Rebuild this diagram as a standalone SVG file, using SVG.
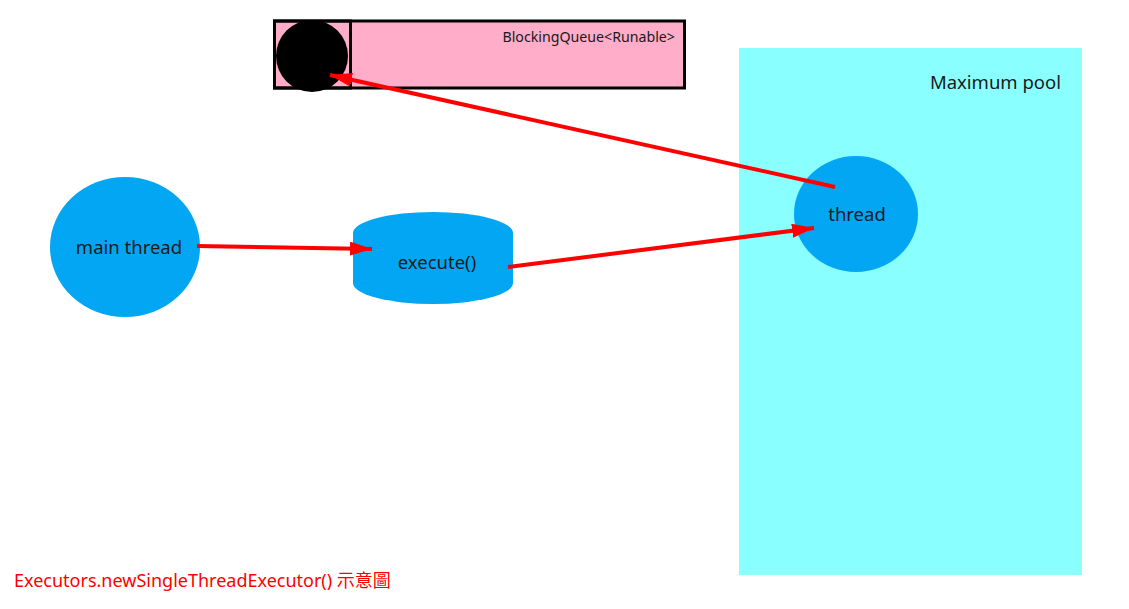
<svg xmlns="http://www.w3.org/2000/svg" width="1129" height="609" viewBox="0 0 1129 609">
<style>
text{font-family:"Noto Sans","Open Sans","Noto Sans CJK TC",sans-serif;fill:#1a1a1a}
.node{fill:#02a6f2}
.conn{stroke:#ff0000;stroke-width:4;fill:none}
</style>
<defs>
<marker id="ah" markerUnits="userSpaceOnUse" markerWidth="24" markerHeight="16" refX="22" refY="7" orient="auto">
<path d="M0,0 L22,7 L0,14 Z" fill="#ff0000"/>
</marker>
</defs>
<rect width="1129" height="609" fill="#ffffff"/>
<g id="pool">
<rect x="739" y="48" width="343" height="527" fill="#8affff"/>
<text x="1061" y="89" font-size="18.5" text-anchor="end">Maximum pool</text>
</g>
<g id="queue">
<rect x="274.5" y="21" width="410" height="67" fill="#ffadc9" stroke="#000" stroke-width="3"/>
<rect x="274.5" y="21" width="76" height="67" fill="none" stroke="#000" stroke-width="3"/>
<ellipse cx="312" cy="56" rx="36" ry="36" fill="#000"/>
<text x="675" y="42" font-size="14.2" text-anchor="end">BlockingQueue&lt;Runable&gt;</text>
</g>
<g id="main-thread">
<ellipse class="node" cx="125" cy="247" rx="75" ry="70"/>
<text x="129" y="254" font-size="18.5" text-anchor="middle">main thread</text>
</g>
<g id="execute">
<path class="node" d="M353,233 A80,21 0 0 1 513,233 L513,283 A80,21 0 0 1 353,283 Z"/>
<text x="437" y="269" font-size="18.5" text-anchor="middle">execute()</text>
</g>
<g id="thread">
<ellipse class="node" cx="856" cy="214" rx="62" ry="58"/>
<text x="857" y="221" font-size="18.5" text-anchor="middle">thread</text>
</g>
<g id="connectors">
<line class="conn" x1="197" y1="246" x2="372" y2="249" marker-end="url(#ah)"/>
<line class="conn" x1="508" y1="267" x2="814" y2="228" marker-end="url(#ah)"/>
<line class="conn" x1="835" y1="187" x2="330" y2="75" marker-end="url(#ah)"/>
</g>
<text x="14" y="587" font-size="18" style="fill:#ff0000">Executors.newSingleThreadExecutor() 示意圖</text>
</svg>
